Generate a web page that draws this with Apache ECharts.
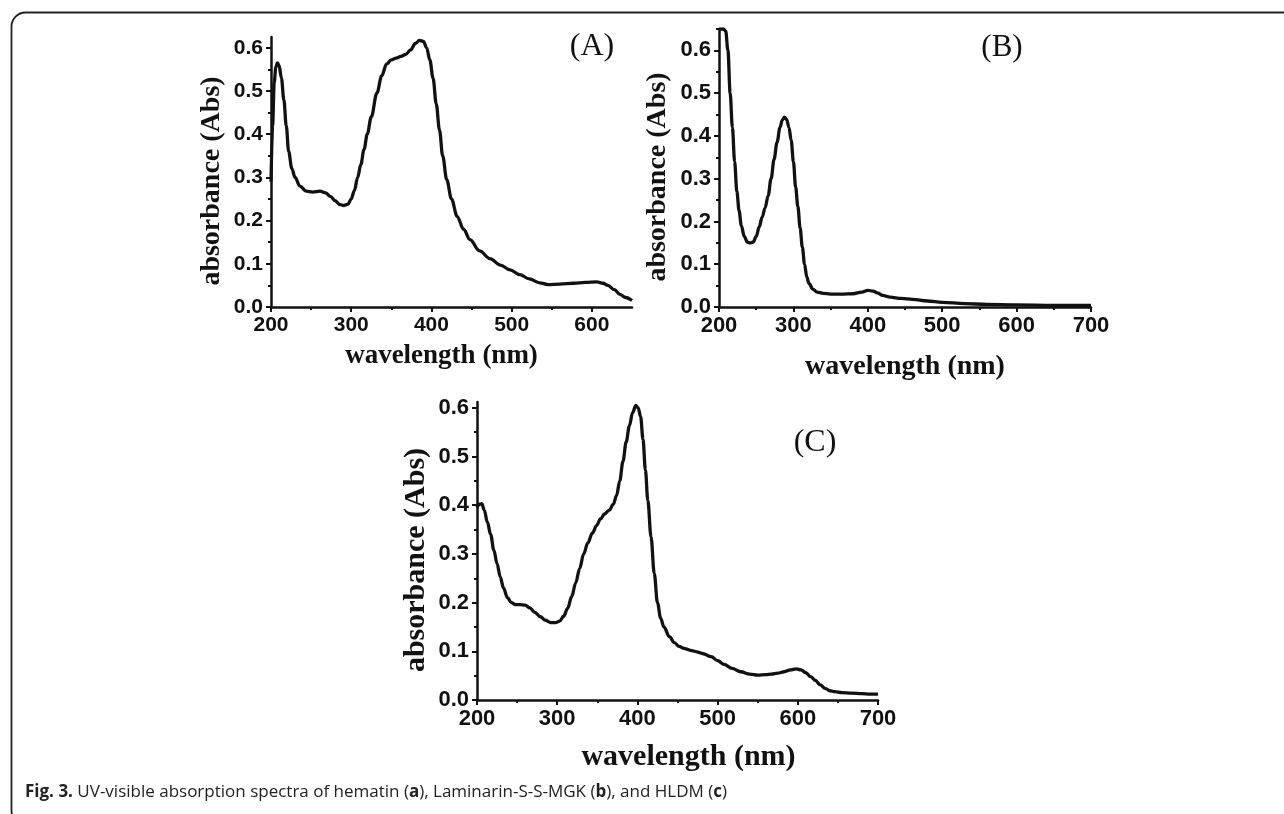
<!DOCTYPE html>
<html>
<head>
<meta charset="utf-8">
<script src="https://cdn.jsdelivr.net/npm/echarts@6/dist/echarts.min.js"></script>
<style>
html,body{margin:0;padding:0;background:#fff;}
#chart{width:1284px;height:814px;}
</style>
</head>
<body>
<div id="chart"></div>
<script>
// ---- Data ----
const xTicksAB = [200, 300, 400, 500, 600];
const xTicksBC = [200, 300, 400, 500, 600, 700];
const yTicks = [0, 0.1, 0.2, 0.3, 0.4, 0.5, 0.6];

// (A) hematin
const waveA = [200,202,204,206,208,210,213,216,219,222,226,230,236,244,252,261,268,274,280,286,291,296,300,304,308,312,316,320,325,332,338,344,350,356,362,368,374,380,385,390,394,398,402,406,410,414,419,425,432,440,448,460,473,486,498,510,522,535,545,560,577,592,606,614,620,628,635,642,650];
const absA  = [0.29,0.42,0.52,0.555,0.565,0.56,0.53,0.48,0.42,0.36,0.32,0.30,0.28,0.268,0.266,0.268,0.264,0.256,0.246,0.237,0.235,0.238,0.25,0.27,0.30,0.33,0.365,0.40,0.44,0.495,0.535,0.562,0.572,0.576,0.58,0.585,0.595,0.61,0.617,0.615,0.60,0.572,0.53,0.47,0.41,0.35,0.295,0.25,0.21,0.18,0.156,0.13,0.112,0.097,0.086,0.075,0.065,0.056,0.052,0.053,0.055,0.057,0.058,0.055,0.05,0.04,0.029,0.022,0.015];

// (B) Laminarin-S-S-MGK
const waveB = [200,203,206,209,212,215,218,221,224,227,230,234,238,242,246,250,254,258,262,266,270,274,278,282,285,288,291,294,297,300,303,306,309,312,315,318,321,326,332,340,350,365,380,392,400,407,413,420,430,445,460,480,500,530,560,600,650,700];
const absB  = [0.65,0.65,0.65,0.645,0.6,0.5,0.42,0.34,0.27,0.225,0.19,0.165,0.152,0.15,0.152,0.165,0.187,0.21,0.232,0.26,0.30,0.345,0.385,0.42,0.437,0.444,0.438,0.42,0.39,0.34,0.28,0.235,0.185,0.14,0.10,0.07,0.055,0.042,0.035,0.032,0.03,0.03,0.031,0.035,0.039,0.037,0.033,0.027,0.023,0.02,0.018,0.014,0.011,0.008,0.006,0.005,0.004,0.004];

// (C) HLDM
const waveC = [200,203,206,209,213,217,221,225,229,233,238,243,248,254,260,266,272,279,285,292,298,303,308,313,318,323,328,333,338,344,349,354,359,365,370,374,378,382,386,390,394,398,401,404,407,410,413,417,421,425,429,433,440,446,452,458,466,474,482,492,500,508,518,529,540,550,560,567,575,583,591,598,604,610,616,622,628,634,640,646,655,667,680,690,700];
const absC  = [0.395,0.402,0.403,0.39,0.365,0.34,0.308,0.28,0.253,0.23,0.21,0.2,0.196,0.196,0.195,0.189,0.18,0.171,0.164,0.159,0.159,0.162,0.172,0.188,0.212,0.24,0.27,0.30,0.322,0.343,0.358,0.372,0.382,0.39,0.402,0.42,0.45,0.49,0.53,0.563,0.59,0.605,0.6,0.582,0.535,0.472,0.41,0.335,0.26,0.2,0.168,0.15,0.13,0.118,0.11,0.106,0.102,0.099,0.095,0.089,0.081,0.073,0.065,0.058,0.053,0.051,0.052,0.053,0.055,0.058,0.062,0.064,0.062,0.056,0.048,0.04,0.031,0.024,0.019,0.017,0.015,0.014,0.013,0.012,0.012];

const panelLabels = ['(A)', '(B)', '(C)'];
const xName = 'wavelength (nm)';
const yName = 'absorbance (Abs)';
const caption = ['Fig. 3.', ' UV-visible absorption spectra of hematin (', 'a', '), Laminarin-S-S-MGK (', 'b', '), and HLDM (', 'c', ')'];

// ---- Helpers ----
const zip = (xs, ys) => xs.map((x, i) => [x, ys[i]]);
const INK = '#111';
const SERIF = '"Liberation Serif", "Times New Roman", serif';
const SANS = '"Liberation Sans", Arial, sans-serif';

function xAxis(gi, min, max, ticks, fs, nameGap, nameFs, pad) {
  return {
    type: 'value', gridIndex: gi, min: min, max: max, interval: 100,
    name: xName, nameLocation: 'middle', nameGap: nameGap,
    nameTextStyle: {fontFamily: SERIF, fontWeight: 'bold', fontSize: nameFs, color: INK, padding: pad || 0},
    axisLine: {show: true, onZero: false, lineStyle: {color: INK, width: 2.5}},
    axisTick: {show: true, inside: false, length: 5, lineStyle: {color: INK, width: 2}, customValues: ticks},
    minorTick: {show: true, splitNumber: 2, length: 3, lineStyle: {color: INK, width: 2}},
    axisLabel: {fontFamily: SANS, fontWeight: 'bold', fontSize: fs, color: INK, margin: 8, customValues: ticks},
    splitLine: {show: false}
  };
}
function yAxis(gi, max, fs, nameGap, nameFs) {
  return {
    type: 'value', gridIndex: gi, min: 0, max: max, interval: 0.1,
    name: yName, nameLocation: 'middle', nameGap: nameGap, nameRotate: 90,
    nameTextStyle: {fontFamily: SERIF, fontWeight: 'bold', fontSize: nameFs, color: INK, padding: [0, 18, 0, 0]},
    axisLine: {show: true, lineStyle: {color: INK, width: 2.5}},
    axisTick: {show: true, inside: false, length: 5, lineStyle: {color: INK, width: 2}, customValues: yTicks},
    minorTick: {show: true, splitNumber: 2, length: 3, lineStyle: {color: INK, width: 2}},
    axisLabel: {fontFamily: SANS, fontWeight: 'bold', fontSize: fs, color: INK, margin: 8,
      customValues: yTicks, formatter: v => v.toFixed(1)},
    splitLine: {show: false}
  };
}
function lineSeries(i, data) {
  return {
    type: 'line', xAxisIndex: i, yAxisIndex: i, data: data,
    showSymbol: false, smooth: 0.35, smoothMonotone: 'x',
    lineStyle: {color: INK, width: 3.3}, silent: true, animation: false
  };
}

const chart = echarts.init(document.getElementById('chart'), null, {renderer: 'canvas'});
chart.setOption({
  backgroundColor: '#fff',
  animation: false,
  grid: [
    {left: 271, top: 37, width: 361, height: 270},
    {left: 719, top: 29, width: 372, height: 278},
    {left: 477, top: 402, width: 401, height: 298}
  ],
  xAxis: [
    xAxis(0, 200, 650, xTicksAB, 21, 36, 27, [0, 20, 0, 0]),
    xAxis(1, 200, 700, xTicksBC, 22, 46, 28),
    xAxis(2, 200, 700, xTicksBC, 22, 42, 30, [0, 0, 0, 22])
  ],
  yAxis: [
    yAxis(0, 0.625, 21, 45, 28),
    yAxis(1, 0.65, 22, 47, 28),
    yAxis(2, 0.612, 22, 46, 30)
  ],
  series: [
    lineSeries(0, zip(waveA, absA)),
    lineSeries(1, zip(waveB, absB)),
    lineSeries(2, zip(waveC, absC))
  ],
  graphic: [
    {type: 'rect', left: 9, top: 10, silent: true,
      shape: {width: 1300, height: 812, r: 14},
      style: {fill: 'none', stroke: '#222', lineWidth: 1.8}},
    {type: 'text', x: 592, y: 47, silent: true,
      style: {text: panelLabels[0], font: '32px ' + SERIF, fill: INK, align: 'center', verticalAlign: 'middle'}},
    {type: 'text', x: 1002, y: 48, silent: true,
      style: {text: panelLabels[1], font: '31px ' + SERIF, fill: INK, align: 'center', verticalAlign: 'middle'}},
    {type: 'text', x: 815, y: 443, silent: true,
      style: {text: panelLabels[2], font: '32px ' + SERIF, fill: INK, align: 'center', verticalAlign: 'middle'}},
    {type: 'text', x: 25, y: 792, silent: true,
      style: {
        text: '{b|' + caption[0] + '}' + caption[1] + '{b|' + caption[2] + '}' + caption[3] + '{b|' + caption[4] + '}' + caption[5] + '{b|' + caption[6] + '}' + caption[7],
        font: '17px "Open Sans", sans-serif', fill: '#222', verticalAlign: 'middle',
        rich: {b: {fontFamily: '"Open Sans", sans-serif', fontSize: 17, fontWeight: 'bold', fill: '#222'}}
      }}
  ]
});
</script>
</body>
</html>
